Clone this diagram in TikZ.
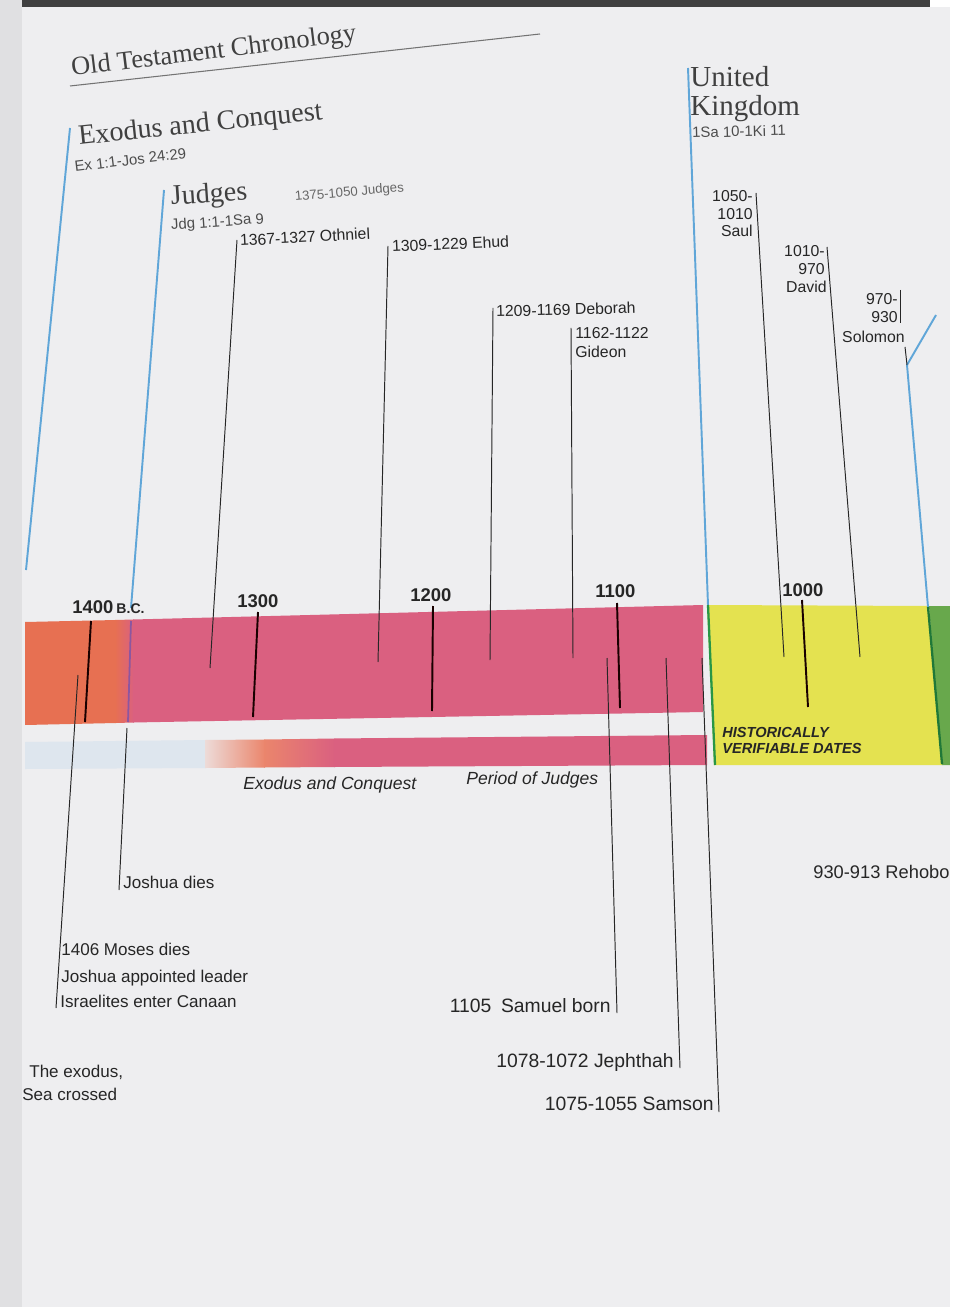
\documentclass[tikz,border=0pt]{standalone}
\usepackage{fontspec}
\setmainfont{Liberation Serif}
\setsansfont{Liberation Sans}
\definecolor{paper}{RGB}{238,238,240}
\definecolor{pinkbar}{RGB}{218,96,128}
\definecolor{orangebar}{RGB}{231,112,82}
\definecolor{paleblue}{RGB}{222,230,238}
\definecolor{yellowbar}{RGB}{228,226,80}
\definecolor{greenbar}{RGB}{104,168,76}
\definecolor{greenline}{RGB}{40,150,70}
\definecolor{eraBlue}{RGB}{96,166,216}
\definecolor{eraViolet}{RGB}{140,86,160}

\begin{document}
\begin{tikzpicture}[x=0.2mm,y=-0.2mm,
  every node/.style={inner sep=0pt,text=black!85},
  evline/.style={line width=0.55pt,black!85},
  yrtick/.style={line width=1.1pt,black!90!red},
  eraline/.style={line width=1.1pt,eraBlue},
  headlbl/.style={font=\fontsize{16}{18}\selectfont,text=black!75,anchor=base west},
  reflbl/.style={font=\sffamily\fontsize{8.5}{10}\selectfont,text=black!70,anchor=base west},
  datelbl/.style={font=\sffamily\fontsize{9}{11}\selectfont,anchor=base west},
  rdatelbl/.style={font=\sffamily\fontsize{9}{11}\selectfont,anchor=base east},
  yearlbl/.style={font=\sffamily\bfseries\fontsize{10.5}{12}\selectfont,anchor=base west},
  eventlbl/.style={font=\sffamily\fontsize{9.7}{12}\selectfont,anchor=base west},
  reventlbl/.style={font=\sffamily\fontsize{11}{13}\selectfont,anchor=base east},
  periodlbl/.style={font=\sffamily\itshape\fontsize{10}{12}\selectfont,anchor=base west},
  verilbl/.style={font=\sffamily\bfseries\itshape\fontsize{8.3}{10}\selectfont,anchor=base west}]
\useasboundingbox (0,0) rectangle (961,1307);
% page
\fill[paper] (0,0) rectangle (961,1307);
\fill[paper!94!black] (0,0) rectangle (22,1307);
\fill[black!75] (22,0) rectangle (930,7);

% bars
\fill[orangebar] (25,622) -- (116,620) -- (116,723) -- (25,725) -- cycle;
\shade[left color=orangebar, right color=pinkbar] (115,620) -- (134,619.5) -- (134,722.5) -- (115,723) -- cycle;
\fill[pinkbar] (133,619.5) -- (703,605) -- (703,712) -- (133,722.5) -- cycle;
\fill[paleblue] (25,742) -- (206,740) -- (206,768) -- (25,769) -- cycle;
\shade[left color=orangebar!15!paper, right color=orangebar!85] (205,740) -- (265,739.5) -- (265,767.5) -- (205,768) -- cycle;
\shade[left color=orangebar!85, right color=pinkbar] (264,739.5) -- (335,738.5) -- (335,767) -- (264,767.5) -- cycle;
\fill[pinkbar] (334,738.5) -- (707,735) -- (707,765) -- (334,767) -- cycle;
\fill[yellowbar] (707,605) -- (929,606) -- (942,765) -- (714,765) -- cycle;
\fill[greenbar] (929,606) -- (952,606) -- (952,765) -- (942,765) -- cycle;

% title
\node[headlbl, font=\fontsize{15}{17}\selectfont, rotate=7, name=title] at (72,76) {Old Testament Chronology};
\coordinate (rule-l) at (70,86);
\coordinate (rule-r) at (540,34);
\draw[line width=0.6pt,black!55] (rule-l) -- (rule-r);

% era headings
\node[headlbl, rotate=6, name=exhead] at (79,145) {Exodus and Conquest};
\node[reflbl, rotate=7, name=exref] at (75,172) {Ex 1:1-Jos 24:29};
\node[headlbl, rotate=4, name=jghead] at (171,205) {Judges};
\node[reflbl, rotate=4, name=jgref] at (171,230) {Jdg 1:1-1Sa 9};
\node[datelbl, font=\sffamily\fontsize{7.5}{9}\selectfont, text=black!60, rotate=5, name=jgspan] at (295,201) {1375-1050 Judges};
\node[headlbl, font=\fontsize{16.5}{18}\selectfont, name=ukhead1] at (690,87) {United};
\node[headlbl, font=\fontsize{16.5}{18}\selectfont, name=ukhead2] at (690,116) {Kingdom};
\node[reflbl, rotate=1.5, name=ukref] at (692,138) {1Sa 10-1Ki 11};

% era lines
\coordinate (exo-t) at (70,128);
\coordinate (exo-b) at (26,570);
\draw[eraline] (exo-t) -- (exo-b);
\coordinate (jdg-t) at (164,190);
\coordinate (jdg-m) at (131,608);
\coordinate (jdg-in) at (131,621);
\coordinate (jdg-out) at (128,722);
\draw[eraline] (jdg-t) -- (jdg-m);
\draw[line width=1pt,eraViolet] (jdg-in) -- (jdg-out);
\coordinate (uk-t) at (688,68);
\coordinate (uk-m) at (708,605);
\coordinate (uk-b) at (715,765);
\draw[eraline] (uk-t) -- (uk-m);
\draw[line width=1.3pt,greenline] (uk-m) -- (uk-b);
\coordinate (div-t) at (936,315);
\coordinate (div-k) at (907,365);
\coordinate (div-m) at (928,607);
\coordinate (div-b) at (942,764);
\draw[eraline] (div-t) -- (div-k) -- (div-m);
\draw[line width=1.3pt,greenline!80!black] (div-m) -- (div-b);

% judges and kings
\node[datelbl, rotate=3, name=othniel] at (240,246) {1367-1327 Othniel};
\node[datelbl, rotate=2.5, name=ehud] at (392,252) {1309-1229 Ehud};
\node[datelbl, rotate=1.5, name=deborah] at (496,317) {1209-1169 Deborah};
\node[datelbl, name=gideon1] at (575,339) {1162-1122};
\node[datelbl, name=gideon2] at (575,358) {Gideon};
\node[rdatelbl, name=saul1] at (753,202) {1050-};
\node[rdatelbl, name=saul2] at (753,220) {1010};
\node[rdatelbl, name=saul3] at (753,237) {Saul};
\node[rdatelbl, name=david1] at (825,257) {1010-};
\node[rdatelbl, name=david2] at (825,275) {970};
\node[rdatelbl, name=david3] at (827,293) {David};
\node[rdatelbl, name=solomon1] at (898,305) {970-};
\node[rdatelbl, name=solomon2] at (898,323) {930};
\node[rdatelbl, name=solomon3] at (905,343) {Solomon};
\coordinate (oth-t) at (237,240);  \coordinate (oth-b) at (210,668);
\coordinate (ehu-t) at (388,246);  \coordinate (ehu-b) at (378,662);
\coordinate (deb-t) at (493,308);  \coordinate (deb-b) at (490,660);
\coordinate (gid-t) at (571,328);  \coordinate (gid-b) at (573,658);
\coordinate (sau-t) at (756,193);  \coordinate (sau-b) at (784,657);
\coordinate (dav-t) at (827,247);  \coordinate (dav-b) at (860,657);
\coordinate (sol-t) at (900,290);  \coordinate (sol-m) at (900,323);
\coordinate (sol-k) at (905,347);
\draw[evline] (oth-t) -- (oth-b);
\draw[evline] (ehu-t) -- (ehu-b);
\draw[evline] (deb-t) -- (deb-b);
\draw[evline] (gid-t) -- (gid-b);
\draw[evline] (sau-t) -- (sau-b);
\draw[evline] (dav-t) -- (dav-b);
\draw[evline] (sol-t) -- (sol-m);
\draw[evline] (sol-k) -- (div-k);

% century marks
\node[yearlbl, name=y1400] at (72,613) {1400\,{\fontsize{8}{9}\selectfont B.C.}};
\node[yearlbl, name=y1300] at (237,607) {1300};
\node[yearlbl, name=y1200] at (410,601) {1200};
\node[yearlbl, name=y1100] at (595,597) {1100};
\node[yearlbl, name=y1000] at (782,596) {1000};
\coordinate (t14-t) at (91,621);   \coordinate (t14-b) at (85,722);
\coordinate (t13-t) at (258,612);  \coordinate (t13-b) at (253,717);
\coordinate (t12-t) at (433,606);  \coordinate (t12-b) at (432,711);
\coordinate (t11-t) at (617,603);  \coordinate (t11-b) at (620,708);
\coordinate (t10-t) at (802,600);  \coordinate (t10-b) at (808,707);
\draw[yrtick] (t14-t) -- (t14-b);
\draw[yrtick] (t13-t) -- (t13-b);
\draw[yrtick] (t12-t) -- (t12-b);
\draw[yrtick] (t11-t) -- (t11-b);
\draw[yrtick] (t10-t) -- (t10-b);

% band labels
\node[periodlbl, name=exband] at (243,789) {Exodus and Conquest};
\node[periodlbl, name=jgband] at (466,784) {Period of Judges};
\node[verilbl, name=veri1] at (722,737) {HISTORICALLY};
\node[verilbl, name=veri2] at (722,753) {VERIFIABLE DATES};

% events below
\node[eventlbl, name=joshua] at (123,888) {Joshua dies};
\node[eventlbl, name=moses1] at (61,955) {1406 Moses dies};
\node[eventlbl, name=moses2] at (61,982) {Joshua appointed leader};
\node[eventlbl, name=moses3] at (60,1007) {Israelites enter Canaan};
\node[eventlbl, name=exodus1] at (29,1077) {The exodus,};
\node[eventlbl, name=exodus2] at (22,1100) {Sea crossed};
\node[reventlbl, name=samuel] at (611,1012) {1105\enspace Samuel born};
\node[reventlbl, name=jephthah] at (674,1067) {1078-1072 Jephthah};
\node[reventlbl, name=samson] at (714,1110) {1075-1055 Samson};
\begin{scope}
\clip (800,850) rectangle (950,900);
\node[eventlbl, font=\sffamily\fontsize{10.4}{12}\selectfont, name=rehoboam] at (813,878) {930-913 Rehoboam};
\end{scope}
\coordinate (jos-t) at (127,728);  \coordinate (jos-b) at (119,890);
\coordinate (mos-t) at (78,675);   \coordinate (mos-b) at (56,1008);
\coordinate (sam-t) at (607,658);  \coordinate (sam-b) at (617,1013);
\coordinate (jep-t) at (666,658);  \coordinate (jep-b) at (680,1068);
\coordinate (sas-t) at (702,658);  \coordinate (sas-b) at (719,1112);
\draw[evline] (jos-t) -- (jos-b);
\draw[evline] (mos-t) -- (mos-b);
\draw[evline] (sam-t) -- (sam-b);
\draw[evline] (jep-t) -- (jep-b);
\draw[evline] (sas-t) -- (sas-b);

% page edge
\fill[white] (950,0) rectangle (961,1307);
\fill[white] (930,0) rectangle (950,7);
\end{tikzpicture}
\end{document}
